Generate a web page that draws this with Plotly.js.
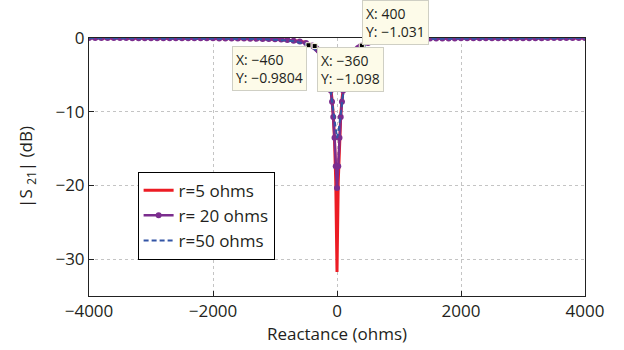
<!DOCTYPE html>
<html>
<head>
<meta charset="utf-8">
<script src="https://cdn.plot.ly/plotly-3.0.1.min.js"></script>
<style>html,body{margin:0;padding:0;background:#fff;}#chart{width:624px;height:350px;}</style>
</head>
<body>
<div id="chart"></div>
<script>
// Reactance values (ohms)
const xDense20 = [-4000,-3900,-3800,-3700,-3600,-3500,-3400,-3300,-3200,-3100,-3000,-2900,-2800,-2700,-2600,-2500,-2400,-2300,-2200,-2100,-2000,-1900,-1800,-1700,-1600,-1500,-1400,-1300,-1200,-1100,-1000,-900,-800,-700,-600,-500,
  -400,-380,-360,-340,-320,-300,-280,-260,-240,-220,-200,-180,-160,-140,-120,-100,-80,-60,-40,-20,0,20,40,60,80,100,120,140,160,180,200,220,240,260,280,300,320,340,360,380,400,
  500,600,700,800,900,1000,1100,1200,1300,1400,1500,1600,1700,1800,1900,2000,2100,2200,2300,2400,2500,2600,2700,2800,2900,3000,3100,3200,3300,3400,3500,3600,3700,3800,3900,4000];
const yR20 = [-0.012,-0.012,-0.013,-0.014,-0.014,-0.015,-0.016,-0.017,-0.018,-0.019,-0.021,-0.022,-0.024,-0.026,-0.028,-0.030,-0.032,-0.035,-0.038,-0.042,-0.047,-0.052,-0.057,-0.064,-0.072,-0.082,-0.094,-0.11,-0.13,-0.15,-0.18,-0.22,-0.28,-0.37,-0.49,-0.69,
  -1.03,-1.13,-1.24,-1.37,-1.52,-1.69,-1.89,-2.13,-2.41,-2.75,-3.15,-3.64,-4.24,-4.99,-5.92,-7.11,-8.65,-10.71,-13.53,-17.39,-20.36,-17.39,-13.53,-10.71,-8.65,-7.11,-5.92,-4.99,-4.24,-3.64,-3.15,-2.75,-2.41,-2.13,-1.89,-1.69,-1.52,-1.37,-1.24,-1.13,-1.031,
  -0.69,-0.49,-0.37,-0.28,-0.22,-0.18,-0.15,-0.13,-0.11,-0.094,-0.082,-0.072,-0.064,-0.057,-0.052,-0.047,-0.042,-0.038,-0.035,-0.032,-0.030,-0.028,-0.026,-0.024,-0.022,-0.021,-0.019,-0.018,-0.017,-0.016,-0.015,-0.014,-0.014,-0.013,-0.012,-0.012];

const xSparse = [-4000,-3500,-3000,-2500,-2000,-1500,-1200,-1000,-800,-700,-600,-500,
  -400,-380,-360,-340,-320,-300,-280,-260,-240,-220,-200,-180,-160,-140,-120,-100,-80,-60,-40,-20,0,20,40,60,80,100,120,140,160,180,200,220,240,260,280,300,320,340,360,380,400,
  500,600,700,800,1000,1200,1500,2000,2500,3000,3500,4000];
const yR5 = [-0.010,-0.013,-0.018,-0.026,-0.040,-0.072,-0.11,-0.16,-0.25,-0.32,-0.43,-0.61,
  -0.91,-1.00,-1.098,-1.22,-1.35,-1.51,-1.69,-1.91,-2.17,-2.49,-2.87,-3.33,-3.91,-4.63,-5.56,-6.75,-8.34,-10.54,-13.81,-19.50,-31.75,-19.50,-13.81,-10.54,-8.34,-6.75,-5.56,-4.63,-3.91,-3.33,-2.87,-2.49,-2.17,-1.91,-1.69,-1.51,-1.35,-1.22,-1.10,-1.00,-0.91,
  -0.61,-0.43,-0.32,-0.25,-0.16,-0.11,-0.072,-0.040,-0.026,-0.018,-0.013,-0.010];
const yR50 = [-0.015,-0.019,-0.026,-0.038,-0.059,-0.10,-0.16,-0.23,-0.35,-0.45,-0.61,-0.85,
  -1.25,-1.37,-1.50,-1.64,-1.81,-2.01,-2.23,-2.49,-2.80,-3.16,-3.58,-4.08,-4.68,-5.39,-6.25,-7.28,-8.52,-9.96,-11.54,-12.96,-13.57,-12.96,-11.54,-9.96,-8.52,-7.28,-6.25,-5.39,-4.68,-4.08,-3.58,-3.16,-2.80,-2.49,-2.23,-2.01,-1.81,-1.64,-1.50,-1.37,-1.25,
  -0.85,-0.61,-0.45,-0.35,-0.23,-0.16,-0.10,-0.059,-0.038,-0.026,-0.019,-0.015];

// Data tips
const tipX = [400, -460, -360];
const tipY = [-1.031, -0.9804, -1.098];
const tipLabels = ["X: 400<br>Y: \u22121.031", "X: \u2212460<br>Y: \u22120.9804", "X: \u2212360<br>Y: \u22121.098"];

const seriesNames = ["r=5 ohms", "r= 20 ohms", "r=50 ohms"];
const xTicks = [-4000, -2000, 0, 2000, 4000];
const yTicks = [0, -10, -20, -30];

const FONT = "Open Sans, Noto Sans, sans-serif";
const TXT = '#231f20';

const traces = [
  {x: xSparse, y: yR5, name: seriesNames[0], mode: 'lines', line: {color: '#ec1c24', width: 3}},
  {x: xDense20, y: yR20, name: seriesNames[1], mode: 'lines+markers', line: {color: '#7b2d8e', width: 2.5}, marker: {color: '#7b2d8e', size: 6}},
  {x: xSparse, y: yR50, name: seriesNames[2], mode: 'lines', line: {color: '#3355a5', width: 2, dash: '5px,3px'}},
  {x: tipX, y: tipY, mode: 'markers', showlegend: false, marker: {color: '#000', size: 5, symbol: 'square', line: {color: '#fffde8', width: 1}}}
];

const anchors = [
  {xanchor: 'left', yanchor: 'bottom', xshift: 0, yshift: 1},
  {xanchor: 'right', yanchor: 'top', xshift: -1, yshift: -1},
  {xanchor: 'left', yanchor: 'top', xshift: 2, yshift: -1}
];
const annotations = tipX.map((xv, i) => Object.assign({
  x: xv, y: tipY[i], xref: 'x', yref: 'y', text: tipLabels[i], showarrow: false,
  align: 'left', bgcolor: '#fdfbe9', bordercolor: '#cfcfc4', borderwidth: 1, borderpad: 3,
  font: {family: FONT, size: 14, color: TXT}
}, anchors[i]));

const layout = {
  width: 624, height: 350,
  margin: {l: 89, r: 39, t: 38, b: 54},
  paper_bgcolor: '#fff', plot_bgcolor: '#fff',
  font: {family: FONT, size: 17, color: TXT},
  showlegend: true,
  legend: {
    x: 0.098, y: 0.482, xanchor: 'left', yanchor: 'top',
    bgcolor: '#fff', bordercolor: '#000', borderwidth: 1,
    font: {family: FONT, size: 17, color: TXT},
    itemwidth: 30, tracegroupgap: 0
  },
  xaxis: {
    range: [-4000, 4000], tickvals: xTicks, ticks: 'inside', ticklen: 5, tickcolor: '#222',
    showline: true, linecolor: '#222', linewidth: 1, mirror: true,
    showgrid: true, gridcolor: '#c4c4c4', griddash: 'dot', gridwidth: 1, zeroline: false,
    tickfont: {family: FONT, size: 17, color: TXT},
    title: {text: 'Reactance (ohms)', font: {family: FONT, size: 17, color: TXT}, standoff: 2}
  },
  yaxis: {
    range: [-35, 0], tickvals: yTicks, ticks: 'inside', ticklen: 5, tickcolor: '#222',
    showline: true, linecolor: '#222', linewidth: 1, mirror: true,
    showgrid: true, gridcolor: '#c4c4c4', griddash: 'dot', gridwidth: 1, zeroline: false,
    tickfont: {family: FONT, size: 17, color: TXT},
    title: {text: '|S <sub>21</sub>| (dB)', font: {family: FONT, size: 17, color: TXT}, standoff: 18}
  },
  annotations: annotations
};

Plotly.newPlot('chart', traces, layout, {displayModeBar: false, staticPlot: true});
</script>
</body>
</html>
